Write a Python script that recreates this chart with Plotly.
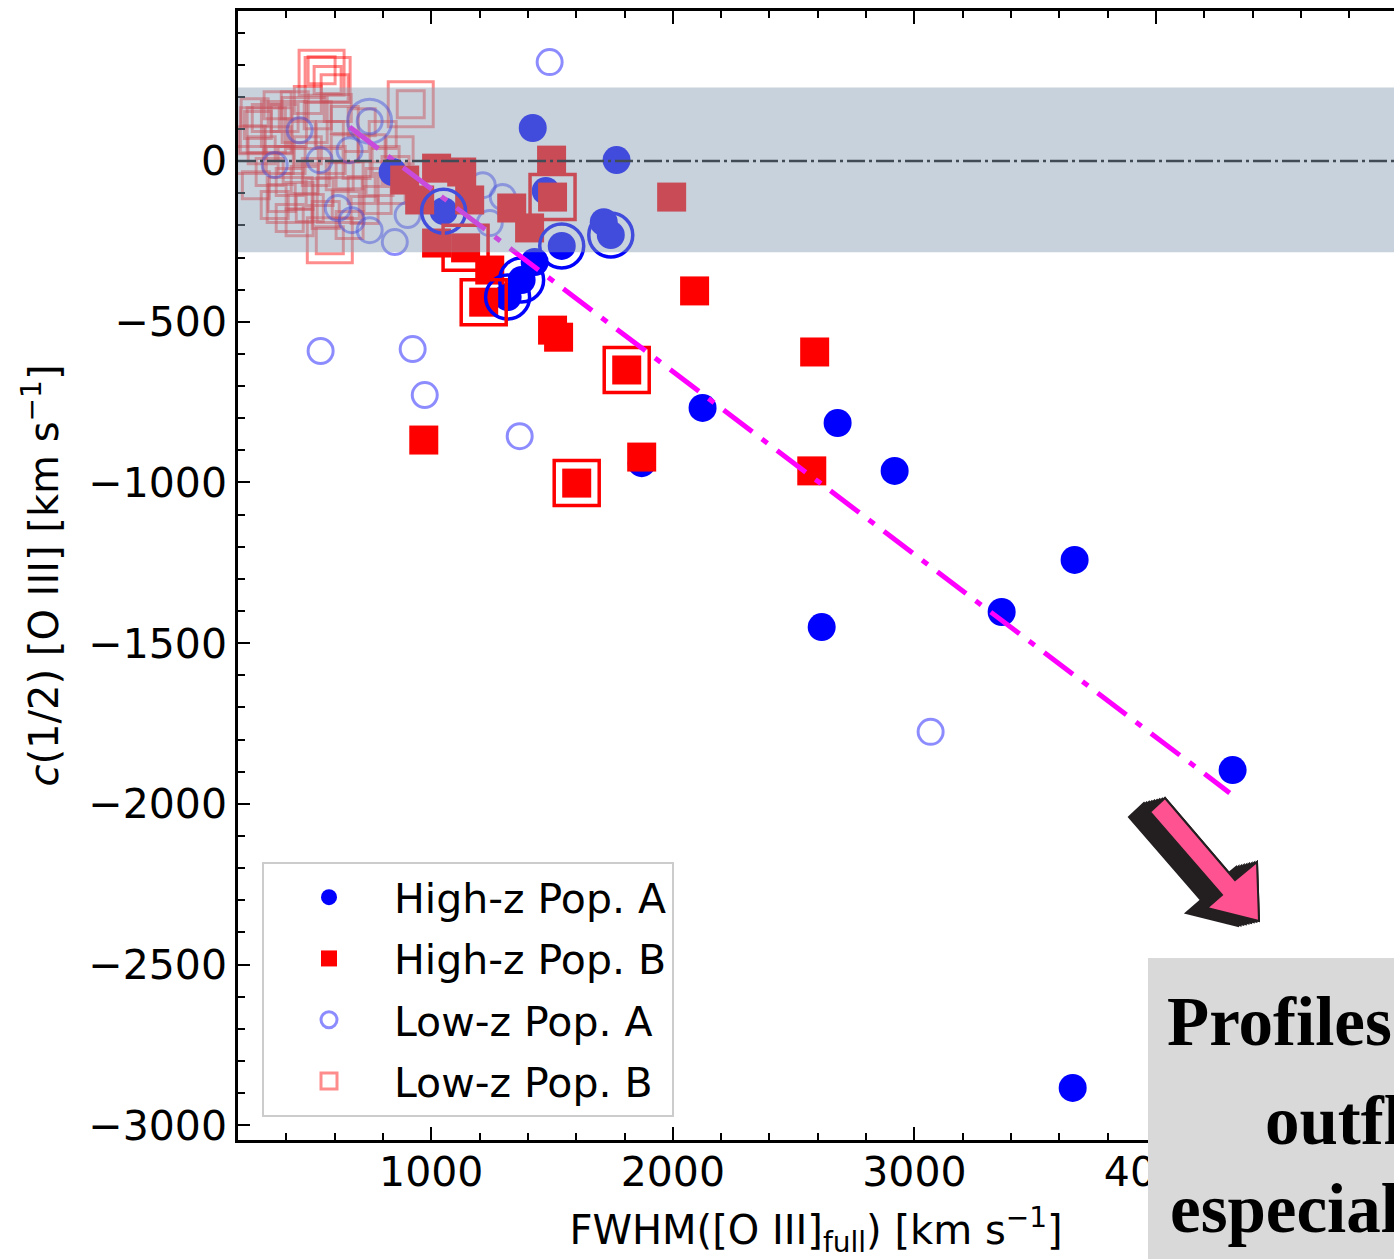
import plotly.graph_objects as go

# ---------------- data ----------------
# High-z Population A: FWHM([O III]_full) and c(1/2) [O III], km/s
hiA_fwhm = [1420, 1767, 1474, 1714, 1743, 1051, 1540, 1428, 1374, 1316,
            2123, 2682, 2918, 3663, 3361, 2616, 4317, 3655, 1871, 840]
hiA_c12 = [103, 3, -93, -190, -230, -156, -264, -314, -370, -423,
           -768, -815, -964, -1241, -1403, -1450, -1895, -2884, -940, -34]

# High-z Population B
hiB_fwhm = [1498, 1995, 1502, 890, 1022, 1126, 952, 1159, 1333, 1407,
            1022, 1142, 1242, 1217, 2090, 2587, 1502, 1527, 1809, 969,
            1602, 1871, 2575]
hiB_c12 = [3, -112, -112, -59, -22, -34, -121, -121, -146, -208,
           -255, -270, -339, -439, -404, -594, -526, -548, -650, -868,
           -1002, -921, -964]

# Low-z Population A
loA_fwhm = [1490, 542, 923, 973, 1366, 3067, 745, 1213, 1296, 1242,
            613, 671, 745, 849, 902, 455, 352, 538, 662]
loA_c12 = [308, -591, -585, -728, -856, -1776, 124, -75, -112, -193,
           -146, -184, -215, -252, -168, 96, -12, 3, 34]

# Low-z Population B
loB_fwhm = [571, 546, 600, 915, 580, 282, 298, 364, 393, 422,
            464, 489, 522, 414, 331, 455, 538, 588, 642, 621,
            691, 712, 646, 563, 497, 753, 811, 786, 852, 257,
            381, 315, 435, 530, 642, 249, 274, 352, 414, 455,
            662, 724, 778, 836, 869, 799, 712, 613, 489, 364,
            269, 580, 662, 476, 373]
loB_c12 = [252, 283, 227, 177, -246, 112, 34, 65, 134, 3,
           81, 34, -34, -65, -34, -109, -96, 3, 40, -47,
           -12, -90, -137, -168, -146, 40, 3, -65, -28, 65,
           -115, 134, 174, 143, 128, 3, -75, -137, -177, -190,
           -199, -152, -121, -90, 34, 81, 121, 165, 190, 174,
           152, 81, -44, -59, 3]

# Objects marked with an outer ring
hiA_ring_fwhm = [1743, 1051, 1540, 1374, 1316]
hiA_ring_c12 = [-230, -156, -264, -370, -423]
hiB_ring_fwhm = [1502, 1142, 1217, 1809, 1602]
hiB_ring_c12 = [-112, -270, -439, -650, -1002]
loA_ring_fwhm = [745]
loA_ring_c12 = [124]
loB_ring_fwhm = [571, 546, 915, 580, 390, 303, 414, 621, 331, 476]
loB_ring_c12 = [252, 275, 177, -246, 115, 96, -121, -121, 96, 128]

# Linear relation drawn across the sample
fit_fwhm = [662, 4305]
fit_c12 = [106, -1966]

# Shaded band of c(1/2) values
band_lo, band_hi = -284, 229

x_range = [200, 4985]
y_range = [-3046, 467]

FONT = "DejaVu Sans"

fig = go.Figure()

# light low-z samples first, then the high-z samples on top
fig.add_trace(go.Scatter(
    x=loB_fwhm, y=loB_c12, mode="markers", name="Low-z Pop. B",
    legendgroup="d", legendrank=4,
    marker=dict(symbol="square-open", size=27, color="rgba(255,0,0,0.45)",
                line=dict(width=3, color="rgba(255,0,0,0.45)"))))
fig.add_trace(go.Scatter(
    x=loB_ring_fwhm, y=loB_ring_c12, mode="markers", showlegend=False,
    marker=dict(symbol="square-open", size=45, color="rgba(255,0,0,0.45)",
                line=dict(width=3, color="rgba(255,0,0,0.45)"))))
fig.add_trace(go.Scatter(
    x=loA_fwhm, y=loA_c12, mode="markers", name="Low-z Pop. A",
    legendgroup="c", legendrank=3,
    marker=dict(symbol="circle-open", size=25, color="rgba(0,0,255,0.45)",
                line=dict(width=3, color="rgba(0,0,255,0.45)"))))
fig.add_trace(go.Scatter(
    x=loA_ring_fwhm, y=loA_ring_c12, mode="markers", showlegend=False,
    marker=dict(symbol="circle-open", size=44, color="rgba(0,0,255,0.45)",
                line=dict(width=3, color="rgba(0,0,255,0.45)"))))
fig.add_trace(go.Scatter(
    x=hiA_fwhm, y=hiA_c12, mode="markers", name="High-z Pop. A",
    legendgroup="a", legendrank=1,
    marker=dict(symbol="circle", size=28, color="#0000ff", line=dict(width=0))))
fig.add_trace(go.Scatter(
    x=hiB_fwhm, y=hiB_c12, mode="markers", name="High-z Pop. B",
    legendgroup="b", legendrank=2,
    marker=dict(symbol="square", size=29, color="#ff0000", line=dict(width=0))))
fig.add_trace(go.Scatter(
    x=hiA_ring_fwhm, y=hiA_ring_c12, mode="markers", showlegend=False,
    marker=dict(symbol="circle-open", size=44, color="#0000ff",
                line=dict(width=3.5, color="#0000ff"))))
fig.add_trace(go.Scatter(
    x=hiB_ring_fwhm, y=hiB_ring_c12, mode="markers", showlegend=False,
    marker=dict(symbol="square-open", size=45, color="#ff0000",
                line=dict(width=3.5, color="#ff0000"))))
fig.add_trace(go.Scatter(
    x=fit_fwhm, y=fit_c12, mode="lines", showlegend=False,
    line=dict(color="#ff00ff", width=5, dash="36px,12px,7px,12px")))

# ---------------- layout helpers (pixel -> paper) ----------------
L, R, T, B = 238, 0, 11, 119
W, H = 1394, 1259
PW, PH = W - L - R, H - T - B


def px(xp):
    return (xp - L) / PW


def py(yp):
    return (H - B - yp) / PH


shapes = [
    # zero velocity reference
    dict(type="line", xref="paper", x0=0, x1=1, yref="y", y0=0, y1=0,
         line=dict(color="black", width=2.5, dash="18px,4px,3px,4px"), layer="above"),
    # shaded band
    dict(type="rect", xref="paper", x0=0, x1=1, yref="y", y0=band_lo, y1=band_hi,
         fillcolor="rgba(139,160,180,0.47)", line=dict(width=0), layer="above"),
    # grey caption box
    dict(type="rect", xref="paper", yref="paper",
         x0=px(1148), x1=px(1410), y0=py(1270), y1=py(958),
         fillcolor="#d9d9d9", line=dict(width=0), layer="above"),
]

# pointer arrow (extruded black body with a pink face)
arrow = [(1150, 812), (1165, 798), (1235, 880), (1257, 862),
         (1259, 921), (1207, 908), (1222, 895)]


def arrow_path(dx, dy):
    pts = [(px(a + dx), py(b + dy)) for a, b in arrow]
    return "M " + " L ".join(f"{u:.5f},{v:.5f}" for u, v in pts) + " Z"


for k in range(0, 9):
    f = k / 8
    shapes.append(dict(type="path", xref="paper", yref="paper",
                       path=arrow_path(-21 * f, 5 * f),
                       fillcolor="#231f20", line=dict(color="#231f20", width=2),
                       layer="above"))
shapes.append(dict(type="path", xref="paper", yref="paper", path=arrow_path(0, 0),
                   fillcolor="#ff5290", line=dict(color="#231f20", width=2),
                   layer="above"))

caption = [("Profiles", 1165, 1022), ("outfl", 1263, 1121), ("especial", 1168, 1209)]
annotations = [
    dict(text=f"<b>{t}</b>", xref="paper", yref="paper", x=px(xx), y=py(yy),
         xanchor="left", yanchor="middle", showarrow=False,
         font=dict(family="Liberation Serif", size=69, color="black"))
    for t, xx, yy in caption
]

axis_common = dict(
    showgrid=False, zeroline=False, showline=True, linecolor="black", linewidth=2.5,
    ticks="inside", tickcolor="black", tickwidth=2,
    tickfont=dict(family=FONT, size=41, color="black"),
)

fig.update_layout(
    width=W, height=H,
    margin=dict(l=L, r=R, t=T, b=B, pad=0),
    paper_bgcolor="white", plot_bgcolor="white",
    font=dict(family=FONT, size=40, color="black"),
    xaxis=dict(
        **axis_common, range=x_range, mirror="allticks",
        tick0=0, dtick=1000, ticklen=13, ticklabelstandoff=-6,
        minor=dict(ticks="inside", tick0=0, dtick=200, ticklen=7, tickwidth=1.5,
                   tickcolor="black"),
        title=dict(text="FWHM([O III]<sub>full</sub>) [km s<sup>−1</sup>]",
                   font=dict(family=FONT, size=40, color="black"), standoff=27),
    ),
    yaxis=dict(
        **axis_common, range=y_range, mirror=False,
        tick0=0, dtick=500, ticklen=12,
        minor=dict(ticks="inside", tick0=0, dtick=100, ticklen=7, tickwidth=1.5,
                   tickcolor="black"),
        title=dict(text="<i>c</i>(1/2) [O III] [km s<sup>−1</sup>]",
                   font=dict(family=FONT, size=40, color="black"), standoff=18),
    ),
    yaxis2=dict(
        overlaying="y", side="right", anchor="x", range=y_range,
        showgrid=False, zeroline=False, showline=False, showticklabels=False,
        ticks="inside", tick0=0, dtick=500, ticklen=8, tickwidth=2, tickcolor="black",
        minor=dict(ticks="inside", tick0=0, dtick=100, ticklen=4, tickwidth=1.5,
                   tickcolor="black"),
    ),
    legend=dict(
        x=px(262), y=py(862), xanchor="left", yanchor="top",
        bgcolor="rgba(255,255,255,0.85)", bordercolor="#cccccc", borderwidth=2,
        font=dict(family=FONT, size=41, color="black"),
        traceorder="grouped", tracegroupgap=5, itemwidth=120,
    ),
    shapes=shapes,
    annotations=annotations,
    showlegend=True,
)

fig.write_html("out.html")
